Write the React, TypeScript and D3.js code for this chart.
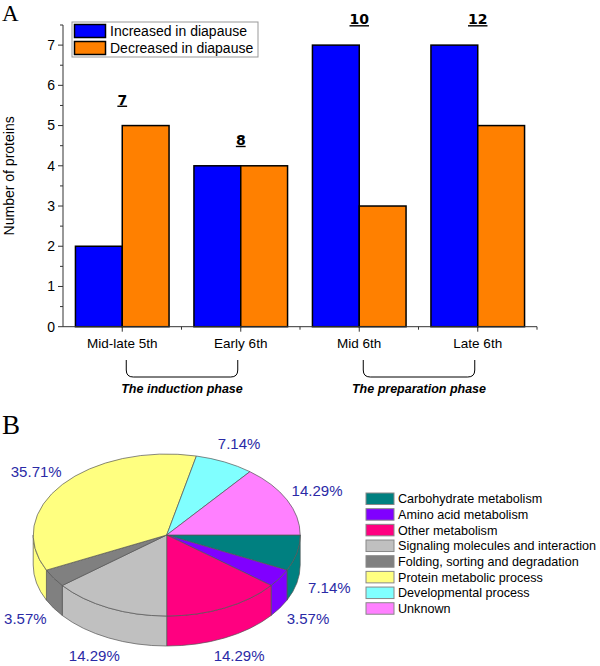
import React from 'react';
import * as d3 from 'd3';

// panel A data
const stages = ['Mid-late 5th', 'Early 6th', 'Mid 6th', 'Late 6th'];
const increased = [2, 4, 7, 7];
const decreased = [5, 4, 3, 5];
const seriesNames = ['Increased in diapause', 'Decreased in diapause'];
const seriesColors = ['#0000ff', '#ff8000'];
const phaseLabels = ['The induction phase', 'The preparation phase'];
const phaseStages = [['Mid-late 5th', 'Early 6th'], ['Mid 6th', 'Late 6th']];

// panel B data
const categories = [
  'Carbohydrate metabolism',
  'Amino acid metabolism',
  'Other metabolism',
  'Signaling molecules and interaction',
  'Folding, sorting and degradation',
  'Protein metabolic process',
  'Developmental process',
  'Unknown',
];
const shares = [7.14, 3.57, 14.29, 14.29, 3.57, 35.71, 7.14, 14.29];
const pieColors = ['#008080', '#8000ff', '#ff0080', '#c0c0c0', '#808080', '#ffff80', '#80ffff', '#ff80ff'];

const font = 'Arial, "Liberation Sans", sans-serif';

const BarPanel = () => {
  const x = d3.scaleBand().domain(stages).range([63, 537]).padding(0);
  const bw = x.bandwidth();
  const inner = d3.scaleBand().domain(seriesNames).range([0, bw * 0.79]);
  const y = d3.scaleLinear().domain([0, 7.5]).range([326.7, 25]);
  const values = [increased, decreased];
  const center = (s) => x(s) + bw / 2;

  const braceTop = 360;
  const braceBottom = 377;
  const brace = (x0, x1) => {
    const p = d3.path();
    const r = 7;
    p.moveTo(x0, braceTop);
    p.lineTo(x0, braceBottom - r);
    p.quadraticCurveTo(x0, braceBottom, x0 + r, braceBottom);
    p.lineTo(x1 - r, braceBottom);
    p.quadraticCurveTo(x1, braceBottom, x1, braceBottom - r);
    p.lineTo(x1, braceTop);
    return p.toString();
  };

  return (
    <g>
      <text x={2} y={21} fontFamily="'Times New Roman', 'Liberation Serif', serif" fontSize={23}>A</text>

      {/* bars */}
      {stages.map((s, i) =>
        seriesNames.map((name, j) => (
          <rect
            key={s + name}
            x={x(s) + bw * 0.105 + inner(name)}
            y={y(values[j][i])}
            width={inner.bandwidth()}
            height={y(0) - y(values[j][i])}
            fill={seriesColors[j]}
            stroke="#000"
            strokeWidth={1.5}
          />
        ))
      )}

      {/* totals */}
      {stages.map((s, i) => (
        <text
          key={'t' + s}
          x={center(s)}
          y={y(Math.max(increased[i], decreased[i])) - 21}
          textAnchor="middle"
          fontFamily="'DejaVu Sans', Verdana, sans-serif"
          fontWeight="bold"
          fontSize={14}
          textDecoration="underline"
        >
          {increased[i] + decreased[i]}
        </text>
      ))}

      {/* y axis */}
      <line x1={63} x2={63} y1={y(7.5)} y2={y(0)} stroke="#333" strokeWidth={1} />
      {d3.range(0, 8).map((t) => (
        <g key={'yt' + t}>
          <line x1={58} x2={63} y1={y(t)} y2={y(t)} stroke="#333" />
          <text x={55} y={y(t)} dy="0.35em" textAnchor="end" fontFamily={font} fontSize={14}>{t}</text>
        </g>
      ))}
      {d3.range(0.5, 8, 1).map((t) => (
        <line key={'ym' + t} x1={60} x2={63} y1={y(t)} y2={y(t)} stroke="#333" />
      ))}
      <text
        transform={`translate(14,${y(3.75)}) rotate(-90)`}
        textAnchor="middle"
        fontFamily={font}
        fontSize={14}
      >
        Number of proteins
      </text>

      {/* x axis */}
      <line x1={63} x2={537} y1={y(0)} y2={y(0)} stroke="#333" strokeWidth={1} />
      {stages.map((s) => (
        <g key={'xt' + s}>
          <line x1={center(s)} x2={center(s)} y1={y(0)} y2={y(0) + 5} stroke="#333" />
          <line x1={x(s) + bw} x2={x(s) + bw} y1={y(0)} y2={y(0) + 3} stroke="#333" />
          <text x={center(s)} y={y(0) + 21} textAnchor="middle" fontFamily={font} fontSize={13.5}>{s}</text>
        </g>
      ))}

      {/* phase braces */}
      {phaseLabels.map((label, k) => {
        const x0 = center(phaseStages[k][0]) + 4;
        const x1 = center(phaseStages[k][1]) - 3;
        return (
          <g key={label}>
            <path d={brace(x0, x1)} fill="none" stroke="#000" strokeWidth={1} />
            <text
              x={(x0 + x1) / 2}
              y={393}
              textAnchor="middle"
              fontFamily={font}
              fontSize={12.5}
              fontStyle="italic"
              fontWeight="bold"
            >
              {label}
            </text>
          </g>
        );
      })}

      {/* legend */}
      <rect x={72} y={22} width={186} height={35} fill="#fff" stroke="#999" strokeWidth={1} />
      {seriesNames.map((name, j) => (
        <g key={'lg' + name}>
          <rect x={74.5} y={24.5 + j * 17} width={31} height={13} fill={seriesColors[j]} stroke="#000" strokeWidth={1.5} />
          <text x={110} y={31 + j * 17} dy="0.35em" fontFamily={font} fontSize={14}>{name}</text>
        </g>
      ))}
    </g>
  );
};

const PiePanel = () => {
  const cx = 166.7;
  const cy = 535;
  const rx = 133.5;
  const ry = 81;
  const depth = 30;
  const pie = d3.pie().sort(null).value((d) => d);
  const arcs = pie(shares);
  // angles used directly with cos/sin: 0 = 3 o'clock, going clockwise on screen
  const pt = (t) => [cx + rx * Math.cos(t), cy + ry * Math.sin(t)];

  const top = (a0, a1) => {
    const [x0, y0] = pt(a0);
    const [x1, y1] = pt(a1);
    const large = a1 - a0 > Math.PI ? 1 : 0;
    return `M${cx},${cy}L${x0},${y0}A${rx},${ry} 0 ${large} 1 ${x1},${y1}Z`;
  };
  // only the front half of the rim is visible
  const wall = (a0, a1) => {
    const s0 = Math.max(a0, 0);
    const s1 = Math.min(a1, Math.PI);
    if (s1 <= s0) return null;
    const [x0, y0] = pt(s0);
    const [x1, y1] = pt(s1);
    return `M${x0},${y0}A${rx},${ry} 0 0 1 ${x1},${y1}L${x1},${y1 + depth}A${rx},${ry} 0 0 0 ${x0},${y0 + depth}Z`;
  };

  const legendY = d3.scaleBand().domain(categories).range([491, 616.4]);

  return (
    <g>
      <text x={2} y={434} fontFamily="'Times New Roman', 'Liberation Serif', serif" fontSize={27}>B</text>

      {arcs.map((a, i) => {
        const d = wall(a.startAngle, a.endAngle);
        return d ? <path key={'w' + i} d={d} fill={pieColors[i]} stroke="#555" strokeWidth={0.7} /> : null;
      })}
      {arcs.map((a, i) => (
        <path key={'s' + i} d={top(a.startAngle, a.endAngle)} fill={pieColors[i]} stroke="#555" strokeWidth={0.7} />
      ))}

      {arcs.map((a, i) => {
        const mid = (a.startAngle + a.endAngle) / 2;
        const k = 1.25;
        const lx = cx + rx * k * Math.cos(mid);
        const ly = cy + ry * k * Math.sin(mid) + (Math.sin(mid) > 0 ? depth : 0);
        return (
          <text key={'l' + i} x={lx} y={ly} dy="0.35em" textAnchor="middle" fontFamily={font} fontSize={15} fill="#2a2aa6">
            {shares[i].toFixed(2)}%
          </text>
        );
      })}

      {categories.map((c, i) => (
        <g key={'pl' + c}>
          <rect x={366} y={legendY(c) + 2} width={28} height={11.5} fill={pieColors[i]} stroke="#888" strokeWidth={1} />
          <text x={398} y={legendY(c) + legendY.bandwidth() / 2} dy="0.35em" fontFamily={font} fontSize={12.6}>{c}</text>
        </g>
      ))}
    </g>
  );
};

export default function App() {
  return (
    <svg
      width={600}
      height={666}
      viewBox="0 0 600 666"
      style={{ position: 'absolute', left: 0, top: 0, background: '#fff' }}
    >
      <rect width={600} height={666} fill="#fff" />
      <BarPanel />
      <PiePanel />
    </svg>
  );
}
